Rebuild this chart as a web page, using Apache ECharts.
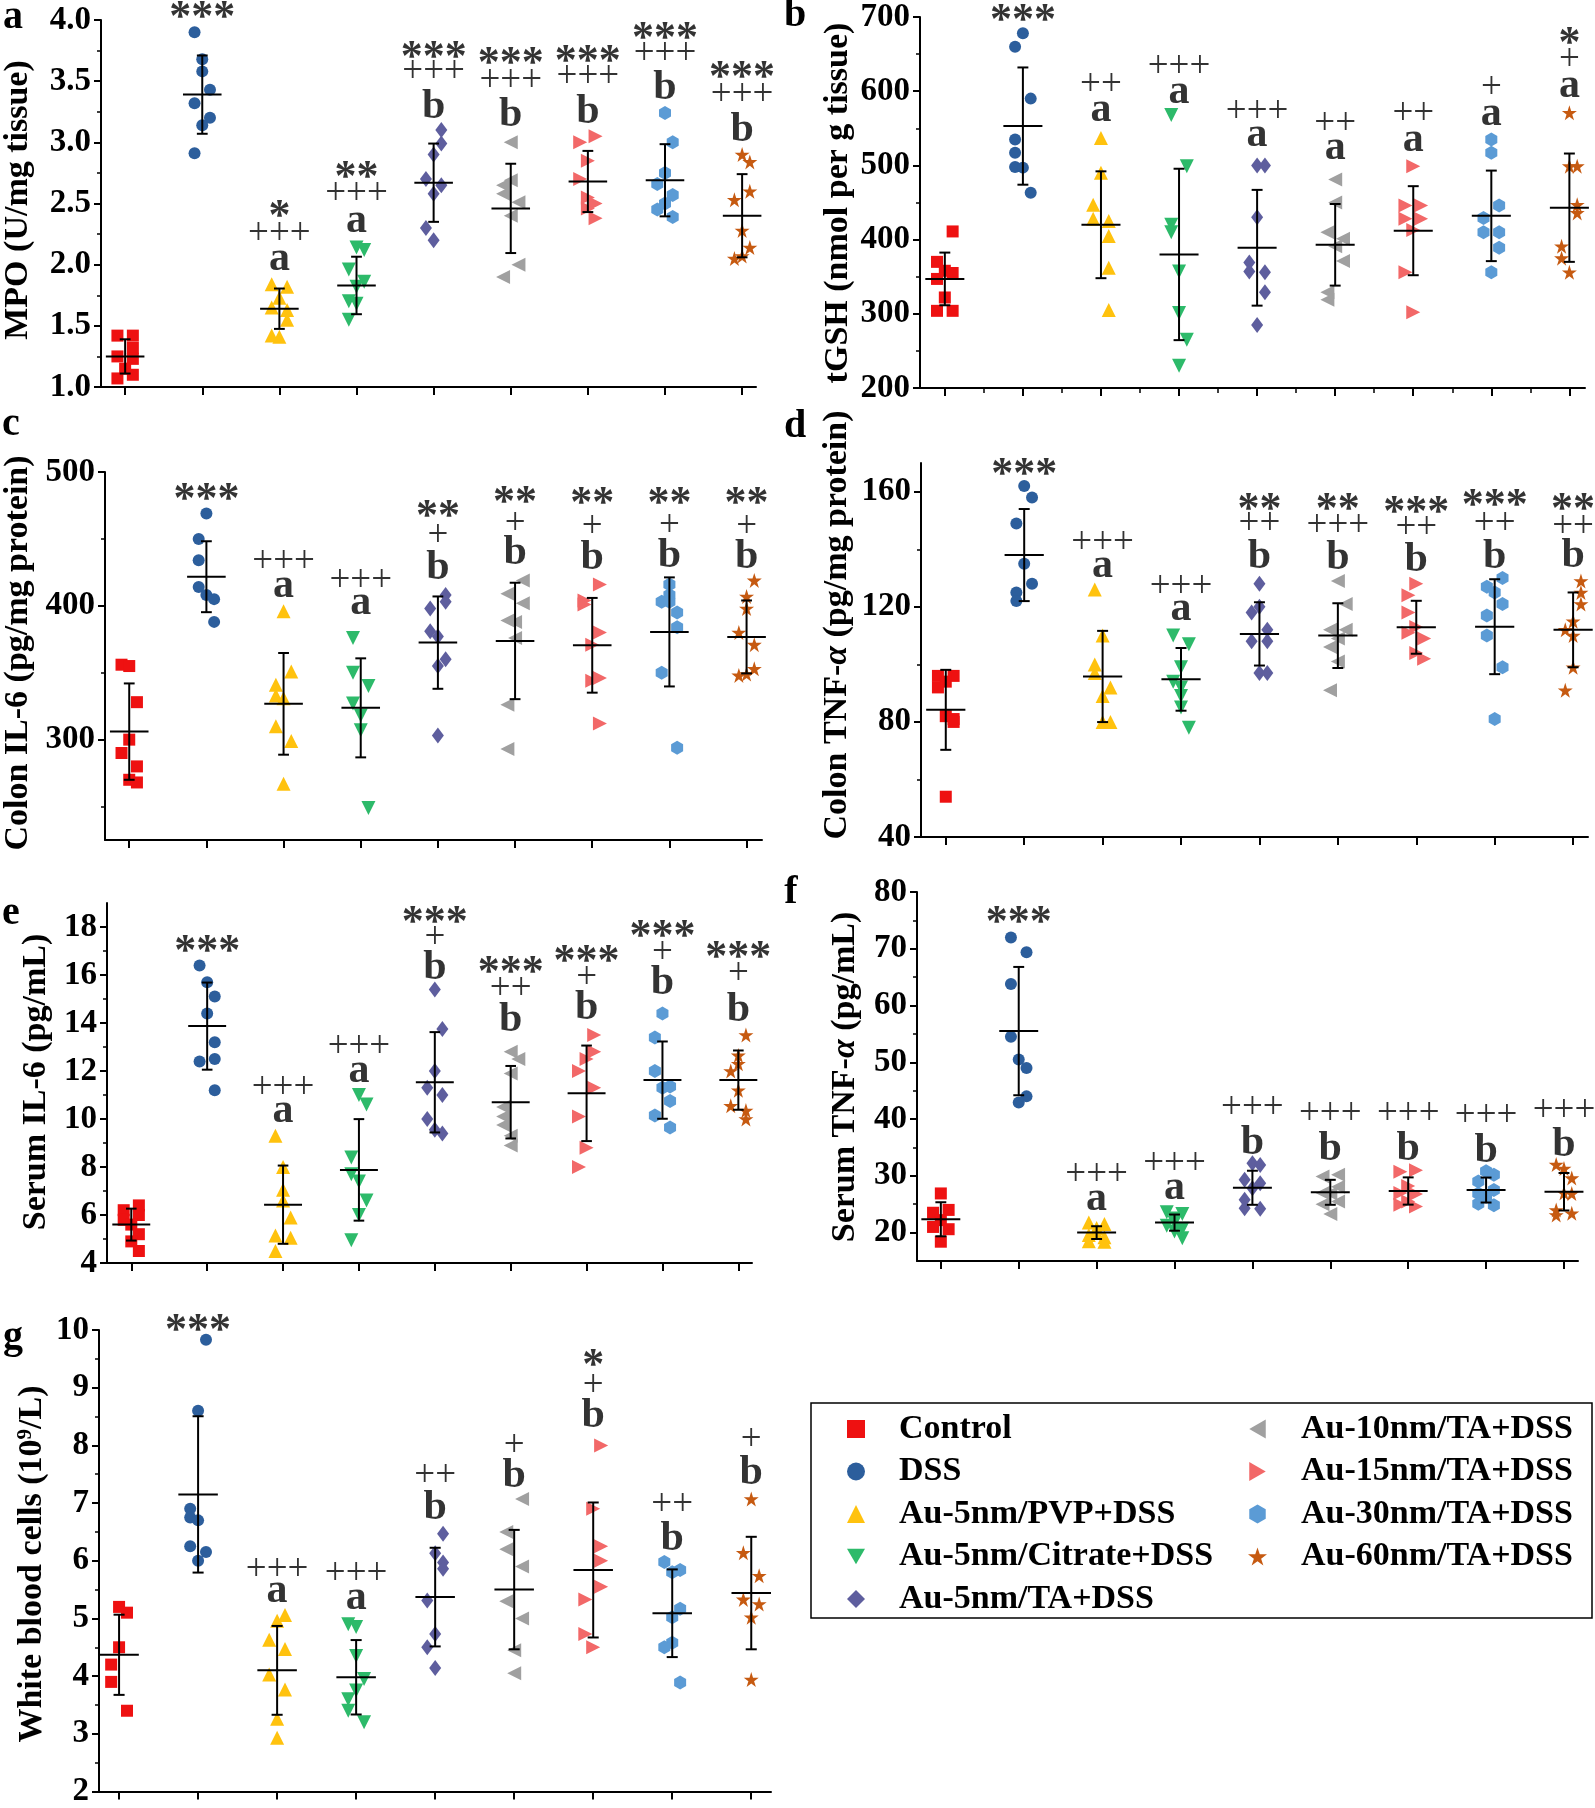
<!DOCTYPE html>
<html><head><meta charset="utf-8">
<script src="https://cdn.jsdelivr.net/npm/echarts@6/dist/echarts.min.js"></script>
<style>html,body{margin:0;padding:0;background:#fff}#c{width:1595px;height:1808px}</style>
</head><body><div id="c"></div>
<script>
const FONT = '"Liberation Serif","Times New Roman",serif';
const groups = ['Control','DSS','Au-5nm/PVP+DSS','Au-5nm/Citrate+DSS','Au-5nm/TA+DSS','Au-10nm/TA+DSS','Au-15nm/TA+DSS','Au-30nm/TA+DSS','Au-60nm/TA+DSS'];
const colors = ['#EE1111','#2C5E9C','#FFC20E','#2DBA6A','#5E5E9E','#A0A0A0','#F26868','#5B9BD5','#C65A11'];
const HEX = 'path://M50,0 L93.3,25 L93.3,75 L50,100 L6.7,75 L6.7,25 Z';
const STAR = 'path://M50,0 L61.2,34.5 L97.6,34.5 L68.2,55.9 L79.4,90.5 L50,69.1 L20.6,90.5 L31.8,55.9 L2.4,34.5 L38.8,34.5 Z';
const symbols = ['rect','circle','triangle','triangle','diamond','triangle','triangle',HEX,STAR];
const symbolRotations = [0,0,0,180,0,90,-90,0,0];
const symbolSizes = [12,12,14,14,[12,16],14,14,[12,14],15];
const legendIcons = ['rect','circle','triangle','path://M0,0 L100,0 L50,87 Z','diamond','path://M0,50 L87,0 L87,100 Z','path://M87,50 L0,0 L0,100 Z',HEX,STAR];

// ---- a: MPO ----
const mpoValues = [
 [1.42,1.42,1.32,1.25,1.23,1.15,1.10,1.07],
 [3.90,3.68,3.58,3.43,3.32,3.20,3.14,2.91],
 [1.84,1.82,1.73,1.65,1.63,1.55,1.42,1.41],
 [2.14,2.12,1.96,1.86,1.82,1.70,1.68,1.55],
 [3.10,2.99,2.90,2.70,2.65,2.58,2.30,2.20],
 [3.00,2.69,2.65,2.58,2.51,2.40,2.00,1.90],
 [3.05,3.00,2.85,2.70,2.55,2.50,2.46,2.38],
 [3.24,3.00,2.75,2.66,2.57,2.50,2.45,2.39],
 [2.90,2.84,2.60,2.53,2.28,2.14,2.07,2.05]];
const mpoSpread = [
 [-1,1,1,-1,1,0,1,-1],[-1,0,0,1,-1,1,0,-1],[-1,1,0,-1,1,1,-1,0],[0,1,-1,1,0,-1,0,-1],
 [1,1,0,-1,1,0,-1,0],[0,0,-1,-1,1,0,1,-1],[1,-1,0,-1,0,1,0,1],[0,1,0,-1,1,0,-1,1],[0,1,1,-1,0,1,0,-1]];
const mpoMean = [1.25,3.39,1.64,1.83,2.67,2.46,2.68,2.69,2.40];
const mpoSD = [0.14,0.32,0.165,0.235,0.32,0.365,0.25,0.295,0.34];
const mpoMarks = [[],[['***',4.07]],[['*',2.445],['+++',2.26],['a',2.01]],[['**',2.76],['+++',2.58],['a',2.32]],
 [['***',3.74],['+++',3.58],['b',3.29]],[['***',3.69],['+++',3.51],['b',3.22]],[['***',3.71],['+++',3.54],['b',3.25]],
 [['***',3.90],['+++',3.73],['b',3.44]],[['***',3.58],['+++',3.39],['b',3.10]]];
const mpoTicks = [1.0,1.5,2.0,2.5,3.0,3.5,4.0];
const mpoMinor = [1.25,1.75,2.25,2.75,3.25,3.75];

// ---- b: tGSH ----
const tgshValues = [
 [411,370,358,355,347,322,304,304],
 [678,660,590,535,517,498,497,463],
 [537,490,447,428,425,405,362,305],
 [568,499,420,410,357,301,265,230],
 [500,500,430,369,357,356,329,285],
 [481,450,410,401,391,371,329,319],
 [499,446,446,428,428,413,356,302],
 [535,517,446,429,410,410,389,356],
 [571,499,499,447,436,391,375,356]];
const tgshSpread = [
 [1,-1,0,1,-1,0,-1,1],[0,-1,1,-1,-1,-1,0,1],[0,0,-1,-1,1,1,1,1],[-1,1,-1,-1,0,0,1,0],
 [0,1,0,-1,-1,1,1,0],[0,0,-1,1,0,1,-1,-1],[0,-1,1,-1,1,0,-1,0],[0,0,1,-1,-1,1,1,0],[0,0,1,1,1,-1,-1,0]];
const tgshMean = [347,553,420,380,389,393,412,432,443];
const tgshSD = [35.5,79,72,115.5,78,55,60,61,73];
const tgshMarks = [[],[['***',703]],[['++',608.8],['a',568.4]],[['+++',633.5],['a',593]],[['+++',572.9],['a',534.7]],
 [['++',557],['a',517.6]],[['++',570.6],['a',528]],[['+',605.7],['a',564]],[['*',671.7],['+',642.5],['a',602]]];
const tgshTicks = [200,300,400,500,600,700];
const tgshMinor = [250,350,450,550,650];

// ---- c: Colon IL-6 ----
const il6cValues = [
 [356,355,328,300,290,280,270,268],
 [469,450,434,414,408,405,388],
 [396,351,341,333,331,310,299,267],
 [376,350,340,327,318,307,249],
 [408,403,398,381,377,360,355,303],
 [419,409,402,389,388,376,326,293],
 [416,404,401,380,371,346,344,312],
 [416,408,403,403,395,384,350,294],
 [419,407,398,380,371,353,349,348]];
const il6cSpread = [
 [-1,0,1,0,-1,1,0,1],[0,-1,-1,-1,0,1,1],[0,1,-1,-1,0,-1,1,0],[-1,-1,1,-1,0,0,1],
 [1,1,-1,-1,0,1,0,0],[1,-1,1,-1,0,0,-1,-1],[1,-1,-1,1,0,1,0,1],[0,0,-1,0,1,1,-1,1],[1,0,0,-1,1,1,0,-1]];
const il6cMean = [306,421.75,326.75,323.75,372.5,373.75,370.5,380.5,376.75];
const il6cSD = [36,26.5,38,37,34.5,43.5,35.4,40.75,27.25];
const il6cMarks = [[],[['***',483.5]],[['+++',433],['a',411.75]],[['+++',419],['a',398.75]],
 [['**',471],['+',453],['b',428]],[['**',481.75],['+',461.75],['b',439.25]],[['**',480.5],['+',459.75],['b',435.5]],
 [['**',481],['+',460.5],['b',436.75]],[['**',480.5],['+',459.75],['b',436.25]]];
const il6cTicks = [300,400,500];
const il6cMinor = [250,350,450];

// ---- d: Colon TNF-a ----
const tnfcValues = [
 [96,96,94,92,82,81,80,54],
 [162,158,149,135,128,125,122],
 [126,110,100,97,92,89,80,80],
 [110,107,99,94,92,89,85,78],
 [128,120,118,112,108,108,97,97],
 [129,121,112,112,109,106,101,91],
 [128,124,118,113,111,109,104,102],
 [130,127,125,121,117,110,99,81],
 [129,125,121,115,112,110,99,91]];
const tnfcSpread = [
 [-1,1,0,-1,0,1,1,0],[0,1,-1,0,1,-1,-1],[-1,0,-1,-1,1,0,0,1],[-1,1,0,-1,0,0,0,1],
 [0,0,-1,1,-1,1,0,1],[0,1,-1,1,0,-1,0,-1],[0,-1,-1,0,-1,1,0,1],[1,-1,0,1,-1,-1,1,0],[1,1,1,0,-1,0,0,-1]];
const tnfcMean = [84.2,138,95.8,94.8,110.6,110,112.9,113.1,112];
const tnfcSD = [13.9,16,15.85,10.9,11,11.25,9.2,16.5,13];
const tnfcMarks = [[],[['***',168.1]],[['+++',142.3],['a',132.8]],[['+++',127],['a',117.8]],
 [['**',156],['++',149.2],['b',137.4]],[['**',156],['+++',148.4],['b',136.9]],[['***',154.8],['++',147.6],['b',136.3]],
 [['***',157.3],['++',149.2],['b',137.4]],[['**',155.7],['++',148],['b',137.7]]];
const tnfcTicks = [40,80,120,160];
const tnfcMinor = [60,100,140];

// ---- e: Serum IL-6 ----
const il6sValues = [
 [6.4,6.2,6.0,5.8,5.6,5.2,4.9,4.5],
 [16.4,15.7,15.1,14.4,13.2,12.5,12.4,11.2],
 [9.3,8.0,7.05,6.6,5.9,5.15,5.05,4.5],
 [11.0,10.6,8.4,7.7,7.4,6.6,6.0,4.95],
 [15.4,13.75,12.0,11.3,11.0,10.0,9.55,9.4],
 [12.8,12.5,11.9,10.5,10.1,9.75,9.3,8.9],
 [13.5,12.8,12.5,12.0,11.3,10.1,8.8,8.0],
 [14.4,13.4,12.0,11.35,11.3,10.75,10.15,9.65],
 [13.5,12.65,12.3,12.0,11.2,10.55,10.35,10.0]];
const il6sSpread = [
 [1,-1,1,-1,0,1,0,1],[-1,0,1,0,1,1,-1,1],[-1,0,0,0,1,-1,1,-1],[0,1,-1,-1,0,1,0,-1],
 [0,1,0,-1,1,-1,0,1],[0,1,0,-1,-1,-1,0,0],[1,1,0,-1,1,-1,0,-1],[0,-1,-1,1,0,1,-1,1],[1,0,0,-1,0,-1,1,1]];
const il6sMean = [5.6,13.87,6.43,7.88,11.53,10.7,11.07,11.62,11.62];
const il6sSD = [0.665,1.815,1.63,2.115,2.09,1.51,1.99,1.61,1.235];
const il6sMarks = [[],[['***',17.24]],[['+++',11.32],['a',10.17]],[['+++',13.01],['a',11.83]],
 [['***',18.42],['+',17.56],['b',16.27]],[['***',16.34],['++',15.44],['b',14.12]],[['***',16.82],['+',15.92],['b',14.6]],
 [['***',17.86],['+',16.96],['b',15.64]],[['***',16.96],['+',16.06],['b',14.53]]];
const il6sTicks = [4,6,8,10,12,14,16,18];
const il6sMinor = [5,7,9,11,13,15,17];

// ---- f: Serum TNF-a ----
const tnfsValues = [
 [26.9,24.0,23.5,22.2,21.0,20.6,18.4],
 [72,69.4,63.8,54.5,50.5,49,44,42.9],
 [21.8,21.5,20.8,20.0,19.6,19.2,18.5,18.4],
 [23.6,23.3,22.5,21.8,21.2,20.7,20.2,19.0],
 [32.2,31.9,29.3,28.7,27.8,25.8,24.3,24.2],
 [30.2,29.9,28.1,27.0,26.9,25.5,25.0,23.3],
 [31.0,30.7,28.2,27.0,26.8,25.5,24.9,24.6],
 [30.8,30.2,29.0,27.5,26.9,26.3,25.1,24.8],
 [32.0,31.3,29.6,27.0,26.9,24.0,23.4,23.1]];
const tnfsSpread = [
 [0,1,-1,0,-1,1,0],[-1,1,-1,-1,0,1,1,0],[-1,1,0,0,-1,1,-1,1],[-1,1,0,0,-1,1,0,1],
 [0,1,-1,1,0,-1,-1,1],[1,-1,1,-1,0,1,-1,0],[1,-1,0,-1,1,0,-1,1],[0,1,-1,1,-1,0,-1,1],[-1,0,1,0,1,-1,1,-1]];
const tnfsMean = [22.35,55.5,20,21.76,27.9,27.1,27.33,27.5,27.2];
const tnfsSD = [3,11.3,1.125,1.425,3,2.2,2.4,2.2,3.3];
const tnfsMarks = [[],[['***',75.7]],[['+++',30.3],['a',25.2]],[['+++',32.2],['a',27.2]],
 [['+++',42.05],['b',35.7]],[['+++',41],['b',34.7]],[['+++',41],['b',34.7]],[['+++',40.7],['b',34.3]],[['+++',41.6],['b',35.4]]];
const tnfsTicks = [20,30,40,50,60,70,80];
const tnfsMinor = [25,35,45,55,65,75];

// ---- g: WBC ----
const wbcValues = [
 [5.2,5.1,4.5,4.2,3.9,3.4],
 [9.83,8.6,6.9,6.75,6.7,6.25,6.15,6.0],
 [5.06,4.96,4.63,4.47,4.03,3.77,3.26,2.93],
 [4.9,4.85,4.35,3.95,3.75,3.6,3.4,3.2],
 [6.47,6.13,5.97,5.86,5.31,4.73,4.5,4.14],
 [7.07,6.5,6.2,5.9,5.3,5.0,4.45,4.05],
 [8.0,6.9,6.25,6.0,5.55,5.33,4.73,4.5],
 [5.98,5.84,5.8,5.17,5.02,4.58,4.5,3.89],
 [7.07,6.14,5.74,5.33,5.25,5.02,3.94]];
const wbcSpread = [
 [0,1,0,-1,-1,1],[1,0,-1,-1,0,-1,1,0],[1,0,-1,1,-1,1,0,0],[-1,0,0,1,0,-1,-1,1],
 [1,0,1,1,-1,0,-1,0],[1,-1,-1,1,-1,1,0,0],[1,0,1,1,1,-1,-1,0],[-1,1,0,1,0,0,-1,1],[0,-1,1,-1,1,0,0]];
const wbcMean = [4.37,7.15,4.1,3.98,5.37,5.5,5.84,5.09,5.44];
const wbcSD = [0.695,1.355,0.77,0.645,0.855,1.035,1.17,0.76,0.975];
const wbcMarks = [[],[['***',10.1]],[['+++',5.86],['a',5.4]],[['+++',5.78],['a',5.29]],
 [['++',7.49],['b',6.91]],[['+',8.0],['b',7.47]],[['*',9.49],['+',9.04],['b',8.51]],[['++',6.98],['b',6.37]],[['+',8.11],['b',7.51]]];
const wbcTicks = [2,3,4,5,6,7,8,9,10];
const wbcMinor = [2.5,3.5,4.5,5.5,6.5,7.5,8.5,9.5];

// ---- layout (pixels) ----
const panels = [
 {letter:'a', name:'MPO (U/mg tissue)', v:mpoValues, s:mpoSpread, m:mpoMean, sd:mpoSD, marks:mpoMarks, ticks:mpoTicks, minor:mpoMinor, dec:1,
  grid:[101,20,655,367], xr:[-0.313,8.18], yr:[1,4], nameXY:[18,200], letterXY:[13,18], xMinor:false},
 {letter:'b', name:'tGSH (nmol per g tissue)', v:tgshValues, s:tgshSpread, m:tgshMean, sd:tgshSD, marks:tgshMarks, ticks:tgshTicks, minor:tgshMinor, dec:0,
  grid:[920,17,665,371], xr:[-0.318,8.2], yr:[200,700], nameXY:[838,203], letterXY:[795,16], xMinor:true},
 {letter:'c', name:'Colon IL-6 (pg/mg protein)', v:il6cValues, s:il6cSpread, m:il6cMean, sd:il6cSD, marks:il6cMarks, ticks:il6cTicks, minor:il6cMinor, dec:0,
  grid:[105,472,657,368], xr:[-0.314,8.2], yr:[225,500], nameXY:[18,653], letterXY:[11,425], xMinor:false},
 {letter:'d', name:'{n|Colon TNF-}{i|α}{n| (pg/mg protein)}', v:tnfcValues, s:tnfcSpread, m:tnfcMean, sd:tnfcSD, marks:tnfcMarks, ticks:tnfcTicks, minor:tnfcMinor, dec:0,
  grid:[921,463,667,374], xr:[-0.316,8.19], yr:[40,170], nameXY:[837,625], letterXY:[795,427], xMinor:false},
 {letter:'e', name:'Serum IL-6 (pg/mL)', v:il6sValues, s:il6sSpread, m:il6sMean, sd:il6sSD, marks:il6sMarks, ticks:il6sTicks, minor:il6sMinor, dec:0,
  grid:[107,903,645,360], xr:[-0.32,8.18], yr:[4,19], nameXY:[36,1082], letterXY:[11,914], xMinor:false},
 {letter:'f', name:'{n|Serum TNF-}{i|α}{n| (pg/mL)}', v:tnfsValues, s:tnfsSpread, m:tnfsMean, sd:tnfsSD, marks:tnfsMarks, ticks:tnfsTicks, minor:tnfsMinor, dec:0,
  grid:[917,892,661,369], xr:[-0.306,8.18], yr:[15,80], nameXY:[845,1077], letterXY:[791,893], xMinor:false},
 {letter:'g', name:'{n|White blood cells (10}{sup|9}{n|/L)}', v:wbcValues, s:wbcSpread, m:wbcMean, sd:wbcSD, marks:wbcMarks, ticks:wbcTicks, minor:wbcMinor, dec:0,
  grid:[99,1330,672,467], xr:[-0.254,8.25], yr:[2,10], nameXY:[32,1564], letterXY:[13,1338], xMinor:false}
];

const catTicks = [0,1,2,3,4,5,6,7,8];
const catMinor = [0.5,1.5,2.5,3.5,4.5,5.5,6.5,7.5];
const black = '#000';
const markFont = {
  star:{fontFamily:FONT,fontWeight:'bold',fontSize:44,dy:7},
  plus:{fontFamily:FONT,fontWeight:'normal',fontSize:37,dy:1},
  a:{fontFamily:FONT,fontWeight:'bold',fontSize:42,dy:-4},
  b:{fontFamily:FONT,fontWeight:'bold',fontSize:42,dy:0}
};
function markKind(t){ if(t[0]==='*') return 'star'; if(t[0]==='+') return 'plus'; return t; }

const option = {animation:false, backgroundColor:'#fff', textStyle:{fontFamily:FONT},
  grid:[], xAxis:[], yAxis:[], series:[], graphic:[], legend:[]};

panels.forEach((p, pi) => {
  option.grid.push({left:p.grid[0], top:p.grid[1], width:p.grid[2], height:p.grid[3], containLabel:false});
  const xi = option.xAxis.length, yi = option.yAxis.length;
  option.xAxis.push({type:'value', gridIndex:pi, position:'bottom', min:p.xr[0], max:p.xr[1],
    axisLine:{show:true,onZero:false,lineStyle:{color:black,width:2}},
    axisTick:{show:true,inside:false,length:8,customValues:catTicks,lineStyle:{color:black,width:2}},
    axisLabel:{show:false}, splitLine:{show:false}});
  option.xAxis.push({type:'value', gridIndex:pi, position:'bottom', min:p.xr[0], max:p.xr[1],
    axisLine:{show:false,onZero:false},
    axisTick:{show:p.xMinor,inside:false,length:5,customValues:catMinor,lineStyle:{color:black,width:1.5}},
    axisLabel:{show:false}, splitLine:{show:false}});
  option.yAxis.push({type:'value', gridIndex:pi, position:'left', min:p.yr[0], max:p.yr[1],
    axisLine:{show:true,onZero:false,lineStyle:{color:black,width:2}},
    axisTick:{show:true,inside:false,length:7,customValues:p.ticks,lineStyle:{color:black,width:2}},
    axisLabel:{show:true,customValues:p.ticks,margin:10,color:black,fontFamily:FONT,fontWeight:'bold',fontSize:33,
      formatter:(v)=>Number(v).toFixed(p.dec)},
    splitLine:{show:false}});
  option.yAxis.push({type:'value', gridIndex:pi, position:'left', min:p.yr[0], max:p.yr[1],
    axisLine:{show:false,onZero:false},
    axisTick:{show:true,inside:false,length:4,customValues:p.minor,lineStyle:{color:black,width:1.5}},
    axisLabel:{show:false}, splitLine:{show:false}});

  p.v.forEach((vals, g) => {
    option.series.push({type:'scatter', name:groups[g], xAxisIndex:xi, yAxisIndex:yi, silent:true,
      symbol:symbols[g], symbolRotate:symbolRotations[g], symbolSize:symbolSizes[g],
      itemStyle:{color:colors[g], opacity:1}, z:2,
      data: vals.map((v,k)=>[g + p.s[g][k]*0.1, v])});
  });
  option.series.push({type:'custom', xAxisIndex:xi, yAxisIndex:yi, silent:true, z:5,
    data: p.m.map((m,g)=>[g, m, p.sd[g]]),
    renderItem: function(params, api){
      const i = api.value(0), m = api.value(1), s = api.value(2);
      const l = api.coord([i-0.25, m]), r = api.coord([i+0.25, m]);
      const t = api.coord([i, m+s]), b = api.coord([i, m-s]);
      const cl = api.coord([i-0.07, m])[0], cr = api.coord([i+0.07, m])[0];
      const st = {stroke:black, lineWidth:2, fill:null};
      return {type:'group', children:[
        {type:'line', shape:{x1:l[0],y1:l[1],x2:r[0],y2:r[1]}, style:st},
        {type:'line', shape:{x1:t[0],y1:t[1],x2:b[0],y2:b[1]}, style:st},
        {type:'line', shape:{x1:cl,y1:t[1],x2:cr,y2:t[1]}, style:st},
        {type:'line', shape:{x1:cl,y1:b[1],x2:cr,y2:b[1]}, style:st}]};
    }});
  const markData = [];
  p.marks.forEach((list, g) => list.forEach(([txt, val]) => {
    const f = markFont[markKind(txt)];
    markData.push({value:[g, val], label:{formatter:txt, fontFamily:f.fontFamily, fontWeight:f.fontWeight, fontSize:f.fontSize, offset:[0, f.dy]}});
  }));
  option.series.push({type:'scatter', xAxisIndex:xi, yAxisIndex:yi, silent:true, clip:false, z:6,
    symbolSize:1, itemStyle:{color:'rgba(0,0,0,0)'},
    label:{show:true, position:'inside', color:black, lineHeight:40},
    data: markData});

  option.graphic.push({type:'text', x:p.nameXY[0], y:p.nameXY[1], rotation:Math.PI/2, silent:true,
    style:{text:p.name, fill:black, fontFamily:FONT, fontWeight:'bold', fontSize:34, align:'center', verticalAlign:'middle',
      rich:{n:{fontFamily:FONT,fontWeight:'bold',fontSize:34,fill:black},
            i:{fontFamily:FONT,fontWeight:'bold',fontStyle:'italic',fontSize:34,fill:black},
            sup:{fontFamily:FONT,fontWeight:'bold',fontSize:21,fill:black,verticalAlign:'top'}}}});
  option.graphic.push({type:'text', x:p.letterXY[0], y:p.letterXY[1], silent:true,
    style:{text:p.letter, fill:black, fontFamily:FONT, fontWeight:'bold', fontSize:40, align:'center', verticalAlign:'middle'}});
});

// legend
const legendText = {color:black, fontFamily:FONT, fontWeight:'bold', fontSize:34, lineHeight:34};
const legendItems = groups.map((n,g)=>({name:n, icon:legendIcons[g], itemStyle:{color:colors[g]}}));
option.legend.push({data:legendItems.slice(0,5), orient:'vertical', left:842, top:1407, itemWidth:18, itemHeight:18, itemGap:8.5,
  selectedMode:false, textStyle:Object.assign({padding:[0,0,0,29]}, legendText)});
option.legend.push({data:legendItems.slice(5), orient:'vertical', left:1243, top:1407, itemWidth:19, itemHeight:19, itemGap:8.5,
  selectedMode:false, textStyle:Object.assign({padding:[0,0,0,29]}, legendText)});
option.graphic.push({type:'rect', silent:true, shape:{x:811,y:1403,width:781,height:215}, style:{fill:null, stroke:black, lineWidth:1.5}});

const chart = echarts.init(document.getElementById('c'), null, {renderer:'canvas', width:1595, height:1808});
chart.setOption(option);
</script></body></html>
